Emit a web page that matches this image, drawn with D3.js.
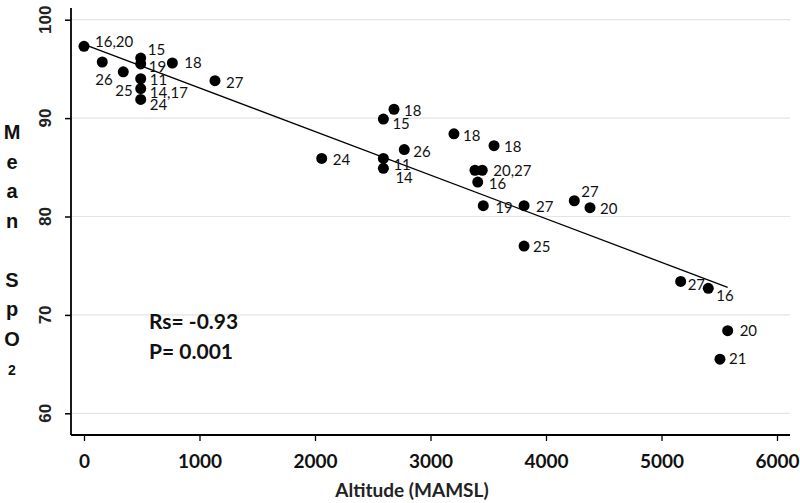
<!DOCTYPE html>
<html>
<head>
<meta charset="utf-8">
<script src="https://cdn.jsdelivr.net/npm/d3@7"></script>
<style>
	body { margin: 0; background: #fff; }
	svg { display: block; }
</style>
</head>
<body>
<svg></svg>
<script>
// altitude (m) and mean SpO2 for each study
let altitude = [0, 158, 340, 491, 491, 491, 491, 491, 765, 1134,
	2058, 2592, 2592, 2592, 2684, 2773, 3203, 3385, 3448, 3409, 3457, 3550, 3810, 3810, 4245, 4381,
	5166, 5405, 5506, 5573];
let spo2 = [97.3, 95.7, 94.7, 96.1, 95.5, 94.0, 93.0, 91.9, 95.6, 93.8,
	85.9, 89.9, 85.9, 84.9, 90.9, 86.8, 88.4, 84.7, 84.7, 83.5, 81.1, 87.2, 81.1, 77.0, 81.6, 80.9,
	73.4, 72.7, 65.5, 68.4];
let pointLabels = ['16,20', '26', '25', '15', '19', '11', '14,17', '24', '18', '27',
	'24', '15', '11', '14', '18', '26', '18', '', '20,27', '16', '19', '18', '27', '25', '27', '20',
	'27', '16', '21', '20'];
// label placement relative to the dot [dx, dy]
let labelOffsets = [[11, -5], [-7, 18], [-8, 19], [7, -8], [8, 3], [9, 1], [9, 4], [9, 5], [12, 0], [11, 2],
	[11, 1], [9, 5], [10, 6], [12, 9], [10, 2], [9, 2], [9, 2], [0, 0], [11, 0], [11, 2], [12, 2], [10, 1], [12, 1], [9, 1], [7, -9], [10, 1],
	[7, 3], [8, 7], [9, 0], [12, 0]];

// fitted line end points
let fitAltitude = [0, 5573];
let fitSpo2 = [97.5, 72.8];

let xTicks = [0, 1000, 2000, 3000, 4000, 5000, 6000];
let yTicks = [60, 70, 80, 90, 100];
let yTitle = ['M', 'e', 'a', 'n', '', 'S', 'p', 'O', '2'];

let width = 800, height = 503;
let margin = { top: 8, right: 10, bottom: 68, left: 71 };

let svg = d3.select('svg')
	.attr('width', width)
	.attr('height', height);

let scaleX = d3.scaleLinear()
	.domain([0, 6000])
	.range([84, 777]);

let scaleY = d3.scaleLinear()
	.domain([60, 100])
	.range([413.3, 19.7]);

let plotBottom = height - margin.bottom;  // 435
let plotRight = width - margin.right;

// grid lines
svg.append('g')
	.selectAll('line')
	.data(yTicks)
	.join('line')
	.attr('x1', margin.left)
	.attr('x2', plotRight)
	.attr('y1', d => scaleY(d))
	.attr('y2', d => scaleY(d))
	.attr('stroke', '#e4e4e4')
	.attr('stroke-width', 1.2);

// y axis
let yAxis = svg.append('g')
	.attr('transform', 'translate(' + margin.left + ',0)')
	.call(d3.axisLeft(scaleY).tickValues(yTicks).tickSize(6).tickFormat(''));
yAxis.select('.domain').remove();
yAxis.selectAll('.tick line').attr('stroke', '#000').attr('stroke-width', 1.5);
svg.append('line')
	.attr('x1', margin.left).attr('x2', margin.left)
	.attr('y1', margin.top).attr('y2', plotBottom)
	.attr('stroke', '#000').attr('stroke-width', 1.8);

svg.append('g')
	.selectAll('text')
	.data(yTicks)
	.join('text')
	.attr('transform', d => 'translate(51,' + scaleY(d) + ') rotate(-90)')
	.attr('text-anchor', 'middle')
	.style('font-family', 'Liberation Sans, Arial, sans-serif')
	.style('font-weight', 'bold')
	.style('font-size', '17px')
	.style('fill', '#222')
	.text(d => d);

// x axis
let xAxis = svg.append('g')
	.attr('transform', 'translate(0,' + plotBottom + ')')
	.call(d3.axisBottom(scaleX).tickValues(xTicks).tickSize(6).tickPadding(14).tickFormat(d3.format('d')));
xAxis.select('.domain').remove();
xAxis.selectAll('.tick line').attr('stroke', '#000').attr('stroke-width', 1.3);
xAxis.selectAll('.tick text')
	.style('font-family', 'Lato, sans-serif')
	.style('font-weight', 'bold')
	.style('font-size', '19px')
	.style('fill', '#111');
svg.append('line')
	.attr('x1', margin.left).attr('x2', plotRight)
	.attr('y1', plotBottom).attr('y2', plotBottom)
	.attr('stroke', '#000').attr('stroke-width', 1.8);

// axis titles
svg.append('text')
	.attr('x', 412)
	.attr('y', 497)
	.attr('text-anchor', 'middle')
	.style('font-family', 'Lato, sans-serif')
	.style('font-weight', 'bold')
	.style('font-size', '19px')
	.style('fill', '#222')
	.text('Altitude (MAMSL)');

svg.append('g')
	.selectAll('text')
	.data(yTitle)
	.join('text')
	.attr('x', 12)
	.attr('y', (d, i) => 139 + i * 29.5)
	.attr('text-anchor', 'middle')
	.style('font-family', 'Liberation Sans, Arial, sans-serif')
	.style('font-weight', 'bold')
	.style('font-size', d => d === '2' ? '14px' : '20px')
	.style('fill', '#111')
	.text(d => d);

// fitted line
svg.append('line')
	.attr('x1', scaleX(fitAltitude[0]))
	.attr('y1', scaleY(fitSpo2[0]))
	.attr('x2', scaleX(fitAltitude[1]))
	.attr('y2', scaleY(fitSpo2[1]))
	.attr('stroke', '#000')
	.attr('stroke-width', 1.3);

// points
svg.append('g')
	.selectAll('circle')
	.data(altitude)
	.join('circle')
	.attr('cx', d => scaleX(d))
	.attr('cy', (d, i) => scaleY(spo2[i]))
	.attr('r', 5.5)
	.attr('fill', '#000');

svg.append('g')
	.selectAll('text')
	.data(pointLabels)
	.join('text')
	.attr('x', (d, i) => scaleX(altitude[i]) + labelOffsets[i][0])
	.attr('y', (d, i) => scaleY(spo2[i]) + labelOffsets[i][1])
	.attr('dy', '0.35em')
	.style('font-family', 'Lato, sans-serif')
	.style('font-size', '15px')
	.style('fill', '#111')
	.text(d => d);

// correlation statistics
svg.append('text')
	.attr('x', 149)
	.attr('y', 329)
	.style('font-family', 'Lato, sans-serif')
	.style('font-weight', 'bold')
	.style('font-size', '21px')
	.style('fill', '#111')
	.text('Rs= -0.93');
svg.append('text')
	.attr('x', 149)
	.attr('y', 359)
	.style('font-family', 'Lato, sans-serif')
	.style('font-weight', 'bold')
	.style('font-size', '21px')
	.style('fill', '#111')
	.text('P= 0.001');
</script>
</body>
</html>
